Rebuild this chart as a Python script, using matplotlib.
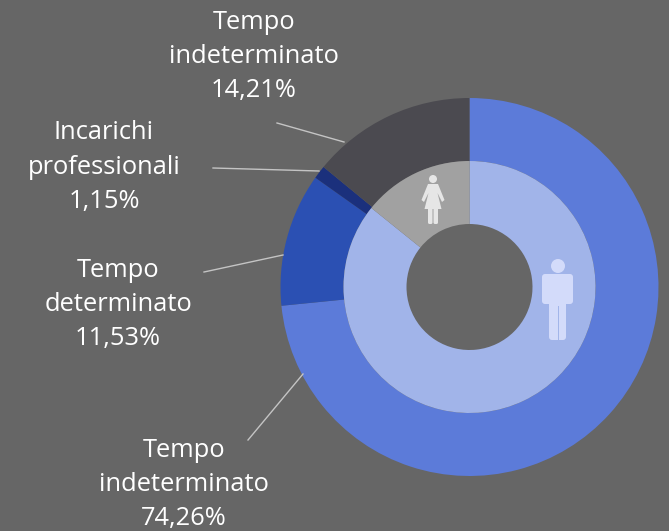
import matplotlib
matplotlib.use("Agg")
from matplotlib import pyplot as plt
from matplotlib.patches import Circle, FancyBboxPatch, Polygon

# --- data ---
outer_labels = ["Tempo\nindeterminato\n74,26%", "Tempo\ndeterminato\n11,53%",
                "Incarichi\nprofessionali\n1,15%", "Tempo\nindeterminato\n14,21%"]
outer_values = [74.26, 11.53, 1.15, 14.21]
outer_colors = ["#5C7BD9", "#2B50B3", "#1B307C", "#4B4A50"]
inner_values = [85.79, 14.21]
inner_colors = ["#A1B4E9", "#A1A1A1"]

BG = "#666666"
W, H = 669, 531
CX, CY = 469.5, 287
R_OUT, R_MID, R_HOLE = 189, 126, 63


def fy(y):
    # picture coords have y going down
    return H - y


fig = plt.figure(figsize=(W / 100, H / 100), dpi=100, facecolor=BG)
ax = fig.add_axes([0, 0, 1, 1])

ax.pie(outer_values, colors=outer_colors, center=(CX, fy(CY)), radius=R_OUT,
       startangle=90, counterclock=False, wedgeprops=dict(width=R_OUT - R_MID, linewidth=0))
ax.pie(inner_values, colors=inner_colors, center=(CX, fy(CY)), radius=R_MID,
       startangle=90, counterclock=False, wedgeprops=dict(width=R_MID - R_HOLE, linewidth=0))

ax.set_xlim(0, W)
ax.set_ylim(0, H)
ax.set_aspect("equal")
ax.axis("off")

# --- labels and leader lines ---
label_pos = [(184, 484.5), (118, 304.5), (104, 167), (254, 56.5)]
leaders = [((248, 440), (303, 374)), ((204, 272), (283, 255)),
           ((213, 168), (319, 171)), ((277, 123), (344, 142))]

for txt, (x, y) in zip(outer_labels, label_pos):
    ax.text(x, fy(y), txt, ha="center", va="center", color="white", fontsize=18.4,
            family="Open Sans", linespacing=1.48)
for (x0, y0), (x1, y1) in leaders:
    ax.plot([x0, x1], [fy(y0), fy(y1)], color="#C4C4C4", lw=1)


def rounded(x0, y0, x1, y1, r, color):
    ax.add_patch(FancyBboxPatch((x0 + r, fy(y1) + r), x1 - x0 - 2 * r, y1 - y0 - 2 * r,
                                boxstyle=f"round,pad={r},rounding_size={r}", fc=color, ec="none"))


# --- man icon ---
MAN = "#D3DBFA"
ax.add_patch(Circle((558, fy(266)), 7, fc=MAN, ec="none"))
rounded(542, 274, 573, 304, 3, MAN)
rounded(549, 280, 566, 340, 3, MAN)
ax.plot([557.5, 557.5], [fy(306), fy(341)], color="#A1B4E9", lw=0.7)

# --- woman icon ---
WOMAN = "#E6E6E6"
ax.add_patch(Circle((433, fy(179)), 4, fc=WOMAN, ec="none"))
ax.add_patch(Polygon([(428, fy(184)), (438, fy(184)), (444.5, fy(200)), (442, fy(202)),
                     (437.5, fy(193)), (441.5, fy(209)), (424.5, fy(209)), (428.5, fy(193)),
                     (424, fy(202)), (421.5, fy(200))], closed=True, fc=WOMAN, ec="none"))
rounded(428, 207, 432.5, 224, 1.5, WOMAN)
rounded(433.5, 207, 438, 224, 1.5, WOMAN)

fig.savefig("out.png", dpi=100, facecolor=BG)
